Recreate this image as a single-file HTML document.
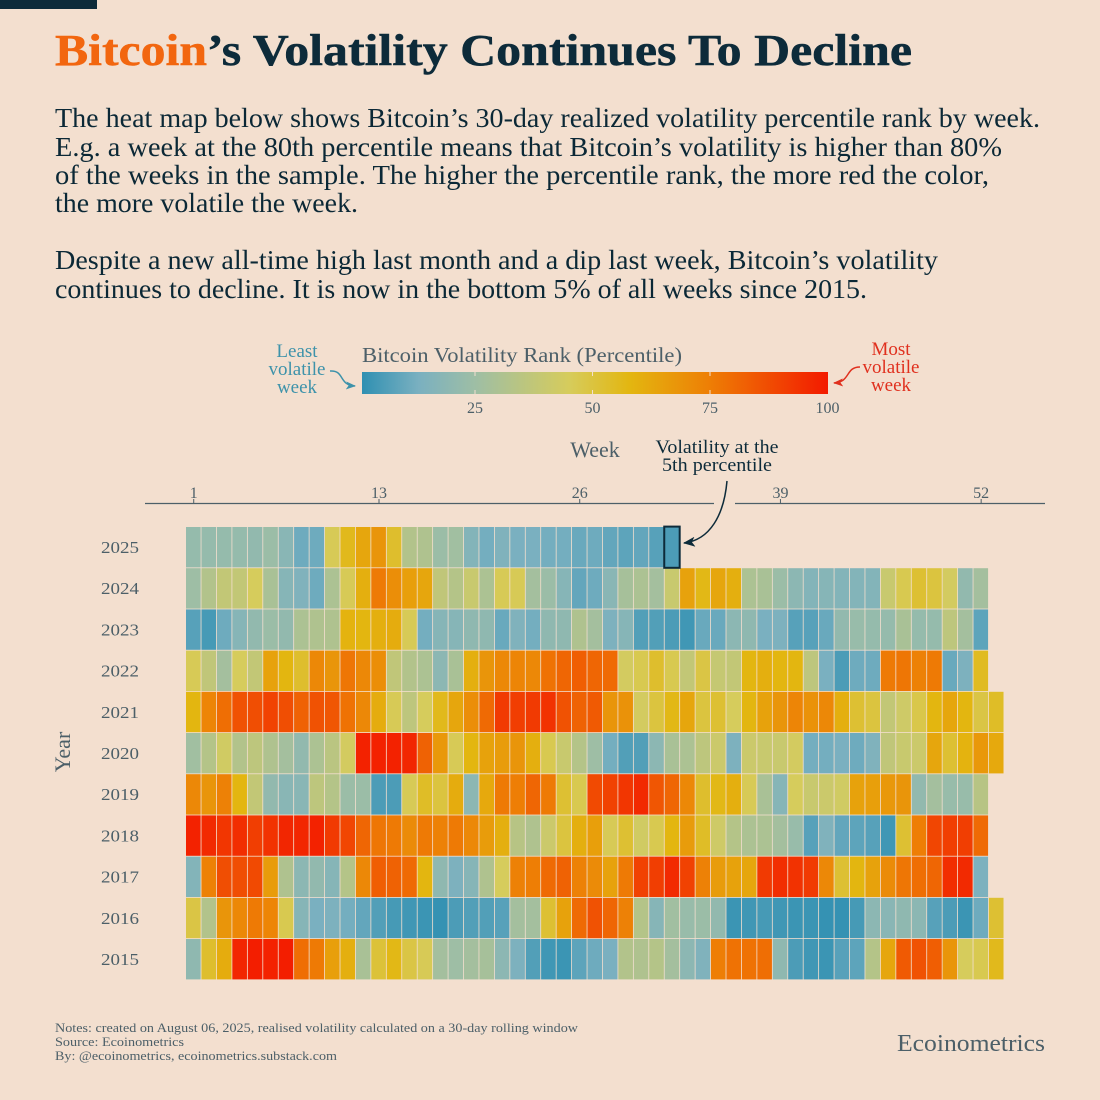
<!DOCTYPE html>
<html lang="en">
<head>
<meta charset="utf-8">
<title>Bitcoin's Volatility Continues To Decline</title>
<style>
html,body{margin:0;padding:0;background:#f3dfcf;}
svg{display:block;}
text{font-family:"Liberation Serif",serif;}
.para{font-size:27px;fill:#0b2836;}
.grey{fill:#4c5f68;}
.note{font-size:13px;fill:#4c5f68;}
</style>
</head>
<body>
<svg id="chart" xmlns="http://www.w3.org/2000/svg" width="1100" height="1100" viewBox="0 0 1100 1100">
<rect x="0" y="0" width="1100" height="1100" fill="#f3dfcf"/>
<rect x="0" y="0" width="97" height="9" fill="#0d2b3a"/>
<text x="55" y="65" font-size="44" font-weight="700" fill="#f2660f" stroke="#f2660f" stroke-width="0.5" textLength="152" lengthAdjust="spacingAndGlyphs">Bitcoin</text>
<text x="207" y="65" font-size="44" font-weight="700" fill="#0d2b3a" stroke="#0d2b3a" stroke-width="0.5" textLength="705" lengthAdjust="spacingAndGlyphs">’s Volatility Continues To Decline</text>

<g>
<text class="para" x="55" y="127" textLength="985" lengthAdjust="spacingAndGlyphs">The heat map below shows Bitcoin’s 30-day realized volatility percentile rank by week.</text>
<text class="para" x="55" y="156" textLength="947" lengthAdjust="spacingAndGlyphs">E.g. a week at the 80th percentile means that Bitcoin’s volatility is higher than 80%</text>
<text class="para" x="55" y="184" textLength="934" lengthAdjust="spacingAndGlyphs">of the weeks in the sample. The higher the percentile rank, the more red the color,</text>
<text class="para" x="55" y="212" textLength="303" lengthAdjust="spacingAndGlyphs">the more volatile the week.</text>
<text class="para" x="55" y="269" textLength="883" lengthAdjust="spacingAndGlyphs">Despite a new all-time high last month and a dip last week, Bitcoin’s volatility</text>
<text class="para" x="55" y="298" textLength="812" lengthAdjust="spacingAndGlyphs">continues to decline. It is now in the bottom 5% of all weeks since 2015.</text>
</g>

<g id="legend">
<text class="grey" x="362" y="362" font-size="21" textLength="320" lengthAdjust="spacingAndGlyphs">Bitcoin Volatility Rank (Percentile)</text>
<defs><linearGradient id="legendGradient" x1="0" x2="1" y1="0" y2="0"></linearGradient>
<marker id="arrowTeal" markerWidth="10" markerHeight="8" refX="9" refY="4" orient="auto" markerUnits="userSpaceOnUse"><path d="M0,0 L10,4 L0,8 L2.5,4 Z" fill="#3d92aa"/></marker>
<marker id="arrowRed" markerWidth="10" markerHeight="8" refX="9" refY="4" orient="auto" markerUnits="userSpaceOnUse"><path d="M0,0 L10,4 L0,8 L2.5,4 Z" fill="#e0301e"/></marker>
<marker id="arrowDark" markerWidth="12" markerHeight="10" refX="11" refY="5" orient="auto" markerUnits="userSpaceOnUse"><path d="M0,0 L12,5 L0,10 L3,5 Z" fill="#0d2b3a"/></marker>
</defs>
<rect id="legendBar" x="362" y="372" width="466" height="22" fill="url(#legendGradient)"/>
<g font-size="19" fill="#3d92aa" text-anchor="middle">
<text x="297" y="357">Least</text><text x="297" y="375">volatile</text><text x="297" y="393">week</text>
</g>
<path d="M330,371 C345,370 338,385 355,386" fill="none" stroke="#3d92aa" stroke-width="1.5" marker-end="url(#arrowTeal)"/>
<g font-size="19" fill="#e0301e" text-anchor="middle">
<text x="891" y="355">Most</text><text x="891" y="373">volatile</text><text x="891" y="391">week</text>
</g>
<path d="M860,367 C845,367 851,382 834,383" fill="none" stroke="#e0301e" stroke-width="1.5" marker-end="url(#arrowRed)"/>
</g>

<text class="grey" x="595" y="457" font-size="22" text-anchor="middle">Week</text>
<text class="grey" transform="translate(70,752) rotate(-90)" font-size="22" text-anchor="middle">Year</text>

<g id="xAxis">
<line x1="145" x2="714" y1="503.5" y2="503.5" stroke="#4c5f68" stroke-width="1.2"/>
<line x1="735" x2="1045" y1="503.5" y2="503.5" stroke="#4c5f68" stroke-width="1.2"/>
</g>
<g id="yAxis"></g>
<g id="cells"></g>

<g>
<text x="717" y="453" font-size="19" fill="#0d2b3a" text-anchor="middle" textLength="123" lengthAdjust="spacingAndGlyphs">Volatility at the</text>
<text x="717" y="471" font-size="19" fill="#0d2b3a" text-anchor="middle" textLength="110" lengthAdjust="spacingAndGlyphs">5th percentile</text>
<path d="M727,481 C724,515 710,540 684,543" fill="none" stroke="#0d2b3a" stroke-width="1.5" marker-end="url(#arrowDark)"/>
</g>

<g>
<text class="note" x="55" y="1032" textLength="523" lengthAdjust="spacingAndGlyphs">Notes: created on August 06, 2025, realised volatility calculated on a 30-day rolling window</text>
<text class="note" x="55" y="1046" textLength="129" lengthAdjust="spacingAndGlyphs">Source: Ecoinometrics</text>
<text class="note" x="55" y="1060" textLength="282" lengthAdjust="spacingAndGlyphs">By: @ecoinometrics, ecoinometrics.substack.com</text>
</g>
<text class="grey" x="897" y="1051" font-size="24" textLength="148" lengthAdjust="spacingAndGlyphs">Ecoinometrics</text>
</svg>

<script>
const years = [2025, 2024, 2023, 2022, 2021, 2020, 2019, 2018, 2017, 2016, 2015];
const weekTicks = [1, 13, 26, 39, 52];
const legendTicks = [25, 50, 75, 100];
const highlightYear = 2025;
const highlightWeek = 32;

const rank2025 = [22,22,22,22,21,24,18,11,11,46,56,63,68,53,32,31,24,26,16,12,15,13,13,12,12,10,11,9,8,9,7,5];
const rank2024 = [25,32,38,38,45,29,17,15,11,30,46,60,76,70,65,63,37,33,40,30,46,46,27,24,17,9,11,18,28,30,27,40,64,57,63,60,30,29,24,19,16,17,16,16,16,40,47,52,50,44,21,27];
const rank2023 = [7,4,11,17,21,24,21,30,31,31,59,58,60,61,46,12,17,17,20,20,10,15,12,20,20,31,27,14,17,6,6,5,3,10,10,19,20,13,14,7,7,10,21,23,22,22,29,22,22,36,27,8];
const rank2022 = [46,37,27,45,38,64,58,53,72,68,77,72,70,37,32,30,19,29,60,68,72,73,72,78,81,83,81,80,44,47,53,47,38,49,39,38,58,60,58,58,36,13,5,11,11,76,77,74,76,10,14,55];
const rank2021 = [58,73,79,86,87,90,87,82,86,85,78,72,61,46,36,45,56,63,70,80,92,91,92,94,86,82,84,68,69,44,50,57,63,50,52,45,58,64,68,73,69,72,60,52,50,38,42,48,58,63,58,49,54];
const rank2020 = [26,33,43,32,36,31,27,21,30,35,44,98,98,98,97,82,67,46,58,64,66,68,60,47,40,33,25,12,6,6,19,29,30,36,41,14,41,40,40,44,12,12,13,11,15,37,40,41,63,52,59,67,62];
const rank2019 = [72,68,74,58,38,21,18,18,36,33,24,24,5,5,46,54,50,61,19,62,76,75,81,76,52,47,88,90,93,96,85,81,72,53,57,60,46,29,17,45,40,41,43,64,65,67,68,21,27,23,23,34];
const rank2018 = [98,96,93,95,91,94,97,97,98,92,89,81,77,76,71,76,74,76,72,66,60,34,31,41,50,60,65,46,52,43,47,58,66,54,42,33,30,30,27,23,7,15,9,8,7,3,52,75,89,91,91,80];
const rank2017 = [16,74,87,87,88,66,31,19,21,17,33,72,83,82,80,58,20,14,17,31,45,74,75,80,82,74,71,64,76,90,91,96,90,74,66,64,63,92,95,94,92,72,52,58,64,71,77,79,81,95,96,14];
const rank2016 = [49,32,68,72,76,73,47,17,13,14,12,9,6,4,3,2,1,5,6,6,7,27,27,52,64,80,86,81,74,33,17,26,23,24,21,2,3,4,3,2,2,1,1,4,19,18,20,19,7,5,2,11,52];
const rank2015 = [20,53,61,97,99,98,99,79,76,65,60,29,51,57,49,46,27,25,27,28,19,14,6,3,2,8,11,13,32,31,33,27,19,15,75,78,78,79,20,5,3,2,7,8,33,63,84,86,83,68,45,47,56];
const yearRanks = [rank2025, rank2024, rank2023, rank2022, rank2021, rank2020, rank2019, rank2018, rank2017, rank2016, rank2015];

const SVG_NS = 'http://www.w3.org/2000/svg';
const cellWidth = 15.44;
const rowHeight = 41.2;
function xScale(week) { return 186 + (week - 1) * cellWidth; }
function yScale(yearIndex) { return 527 + yearIndex * rowHeight; }
function legendX(rank) { return 357.5 + rank * 4.7; }

const colorStops = [
  [0, [47, 144, 178]], [13, [122, 176, 192]], [25, [158, 190, 165]],
  [45, [214, 204, 92]], [58, [227, 182, 16]], [75, [238, 126, 5]], [100, [243, 26, 0]]
];
function colorScale(rank) {
  for (let i = 1; i < colorStops.length; i++) {
    if (rank <= colorStops[i][0]) {
      const a = colorStops[i - 1], b = colorStops[i];
      const t = (rank - a[0]) / (b[0] - a[0]);
      const c = a[1].map(function (v, k) { return Math.round(v + (b[1][k] - v) * t); });
      return 'rgb(' + c.join(',') + ')';
    }
  }
  return 'rgb(243,26,0)';
}
function make(tag, attrs, parent) {
  const el = document.createElementNS(SVG_NS, tag);
  Object.keys(attrs).forEach(function (k) { el.setAttribute(k, attrs[k]); });
  parent.appendChild(el);
  return el;
}

const gradient = document.getElementById('legendGradient');
colorStops.forEach(function (s) {
  const stop = make('stop', { offset: Math.max(0, (legendX(s[0]) - 362) / 466), 'stop-color': colorScale(s[0]) }, gradient);
  
  
});

const legendGroup = document.getElementById('legend');
legendTicks.forEach(function (t) {
  const x = legendX(t);
  if (t < 100) {
    const topMark = make('line', { x1: x, x2: x, y1: 372, y2: 376, stroke: '#f3dfcf', 'stroke-width': 1 }, legendGroup);
    
    
    const bottomMark = make('line', { x1: x, x2: x, y1: 390, y2: 394, stroke: '#f3dfcf', 'stroke-width': 1 }, legendGroup);
    
    
  }
  const label = make('text', { x: x, y: 413, 'font-size': 16, fill: '#4c5f68', 'text-anchor': 'middle' }, legendGroup);
  
  
  label.textContent = t;
});

const xAxisGroup = document.getElementById('xAxis');
weekTicks.forEach(function (w) {
  const x = xScale(w) + cellWidth / 2;
  const mark = make('line', { x1: x, x2: x, y1: 499, y2: 503, stroke: '#4c5f68', 'stroke-width': 1 }, xAxisGroup);
  
  
  const label = make('text', { x: x, y: 498, 'font-size': 16, fill: '#4c5f68', 'text-anchor': 'middle' }, xAxisGroup);
  
  
  label.textContent = w;
});

const yAxisGroup = document.getElementById('yAxis');
years.forEach(function (year, i) {
  const label = make('text', { x: 120, y: yScale(i) + 26, 'font-size': 17, fill: '#4c5f68', 'text-anchor': 'middle', textLength: 38, lengthAdjust: 'spacingAndGlyphs' }, yAxisGroup);
  
  
  label.textContent = year;
});

const cellsGroup = document.getElementById('cells');
yearRanks.forEach(function (ranks, i) {
  ranks.forEach(function (rank, j) {
    const cell = make('rect', {
      x: xScale(j + 1), y: yScale(i),
      width: cellWidth - 0.8, height: rowHeight - 0.8,
      fill: colorScale(rank)
    }, cellsGroup);
    
    
  });
});

const highlightRow = years.indexOf(highlightYear);
const highlight = make('rect', {
  x: xScale(highlightWeek) - 0.4, y: yScale(highlightRow) - 0.4,
  width: cellWidth, height: rowHeight,
  fill: 'none', stroke: '#0d2b3a', 'stroke-width': 2
}, cellsGroup);


</script>
</body>
</html>
